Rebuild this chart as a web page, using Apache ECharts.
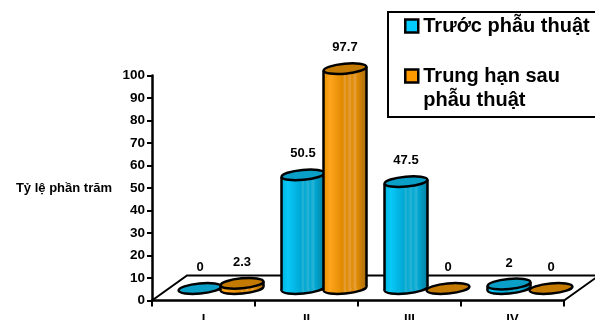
<!DOCTYPE html>
<html>
<head>
<meta charset="utf-8">
<style>
html, body { margin: 0; padding: 0; background: #fff; overflow: hidden; }
#main { width: 595px; height: 320px; }
</style>
<script src="https://cdn.jsdelivr.net/npm/echarts@6/dist/echarts.min.js"></script>
</head>
<body>
<div id="main"></div>
<script>
var categories = ['I', 'II', 'III', 'IV'];
var beforeName = 'Trước phẫu thuật';
var afterName = 'Trung hạn sau phẫu thuật';
var beforeValues = [0, 50.5, 47.5, 2];
var afterValues = [2.3, 97.7, 0, 0];
var yTicks = [0, 100, 10];

var FONT = '"Liberation Sans", Arial, sans-serif';
var RX = 21.5, RY = 5, TILT = 2, LIFT = 12;

function stripes(c0, c1, c2, c3, light) {
    return {
        type: 'linear', x: 0, y: 0, x2: 1, y2: 0,
        colorStops: [
            { offset: 0, color: c0 }, { offset: 0.15, color: c1 },
            { offset: 0.45, color: c2 }, { offset: 0.5, color: light },
            { offset: 0.54, color: c2 }, { offset: 0.62, color: light },
            { offset: 0.66, color: c2 }, { offset: 0.74, color: light },
            { offset: 0.78, color: c2 }, { offset: 1, color: c3 }
        ]
    };
}

var blueBody = stripes('#00b4e0', '#08c8f8', '#00a8d4', '#087f9e', '#2cb4d4');
var orangeBody = stripes('#e89000', '#ffa41c', '#e08a00', '#a86c10', '#e6a040');

// cylinder with a tilted top, shifted off the axis like the old 3d excel charts
function cylinder(shift, body, top) {
    return function (params, api) {
        var i = api.value(0), v = api.value(1);
        var t = api.coord([i, v]), b = api.coord([i, 0]);
        var cx = t[0] + shift, ty = t[1] - LIFT, by = b[1] - LIFT;
        var line = { stroke: '#000', lineWidth: 2.5 };
        var children = [];
        if (v > 0) {
            children.push({
                type: 'ellipse', rotation: TILT / RX, originX: cx, originY: by,
                shape: { cx: cx, cy: by, rx: RX, ry: RY },
                style: { fill: body, stroke: '#000', lineWidth: 2.5 }
            });
            children.push({
                type: 'polygon',
                shape: { points: [[cx - RX, ty + TILT], [cx + RX, ty - TILT], [cx + RX, by - TILT], [cx - RX, by + TILT]] },
                style: { fill: body }
            });
            children.push({ type: 'line', shape: { x1: cx - RX, y1: ty + TILT, x2: cx - RX, y2: by + TILT }, style: line });
            children.push({ type: 'line', shape: { x1: cx + RX, y1: ty - TILT, x2: cx + RX, y2: by - TILT }, style: line });
        }
        children.push({
            type: 'ellipse', rotation: TILT / RX, originX: cx, originY: ty,
            shape: { cx: cx, cy: ty, rx: RX, ry: RY },
            style: { fill: top, stroke: '#000', lineWidth: 2.5 }
        });
        children.push({
            type: 'text',
            style: {
                x: cx, y: ty - 21, text: String(v), align: 'center', verticalAlign: 'middle',
                font: 'bold 13px ' + FONT, fill: '#000'
            }
        });
        return { type: 'group', children: children };
    };
}

// floor of the 3d box
function floor(params, api) {
    var c = params.coordSys;
    var y = c.y + c.height;
    return {
        type: 'polyline',
        shape: { points: [[c.x, y], [c.x + 35, y - 25], [c.x + c.width + 35, y - 25], [c.x + c.width, y]] },
        style: { fill: 'none', stroke: '#000', lineWidth: 2 }
    };
}

var chart = echarts.init(document.getElementById('main'));
chart.setOption({
    animation: false,
    textStyle: { fontFamily: FONT },
    grid: { left: 152, top: 75.5, width: 412, height: 225, containLabel: false, outerBoundsMode: 'none' },
    legend: {
        left: 388, top: 12, orient: 'vertical',
        data: [
            { name: beforeName, icon: 'rect', itemStyle: { color: '#00ccff', borderColor: '#000', borderWidth: 2.5 } },
            { name: afterName, icon: 'rect', itemStyle: { color: '#ff9900', borderColor: '#000', borderWidth: 2.5 } }
        ],
        itemWidth: 13, itemHeight: 13, itemGap: 2,
        padding: [2, 16, 5, 16],
        backgroundColor: '#fff', borderColor: '#000', borderWidth: 2,
        selectedMode: false,
        textStyle: { fontSize: 20, fontWeight: 'bold', color: '#000', lineHeight: 24, fontFamily: FONT },
        formatter: function (name) {
            return name === afterName ? '\nTrung hạn sau\nphẫu thuật' : name;
        }
    },
    xAxis: {
        type: 'category', data: categories,
        axisLine: { show: true, lineStyle: { color: '#000', width: 2.5 } },
        axisTick: { show: true, length: 6, lineStyle: { color: '#000', width: 2 } },
        axisLabel: { color: '#000', fontWeight: 'bold', fontSize: 13, margin: 12 }
    },
    yAxis: {
        type: 'value', min: yTicks[0], max: yTicks[1], interval: yTicks[2],
        name: 'Tỷ lệ phần trăm', nameLocation: 'middle', nameRotate: 0, nameGap: 40,
        nameTextStyle: { color: '#000', fontWeight: 'bold', fontSize: 13 },
        splitLine: { show: false },
        axisLine: { show: true, lineStyle: { color: '#000', width: 2.5 } },
        axisTick: { show: true, length: 5, lineStyle: { color: '#000', width: 2 } },
        axisLabel: { color: '#000', fontWeight: 'bold', fontSize: 13.5, margin: 7 }
    },
    series: [
        { type: 'custom', name: 'floor', silent: true, renderItem: floor, data: [[0, 0]], encode: { x: 0, y: 1 } },
        {
            type: 'custom', name: beforeName, silent: true, itemStyle: { color: '#00ccff' },
            renderItem: cylinder(-3.5, blueBody, '#0a9fc6'),
            data: beforeValues.map(function (v, i) { return [i, v]; }), encode: { x: 0, y: 1 }
        },
        {
            type: 'custom', name: afterName, silent: true, itemStyle: { color: '#ff9900' },
            renderItem: cylinder(38.5, orangeBody, '#c47a00'),
            data: afterValues.map(function (v, i) { return [i, v]; }), encode: { x: 0, y: 1 }
        }
    ]
});
</script>
</body>
</html>
